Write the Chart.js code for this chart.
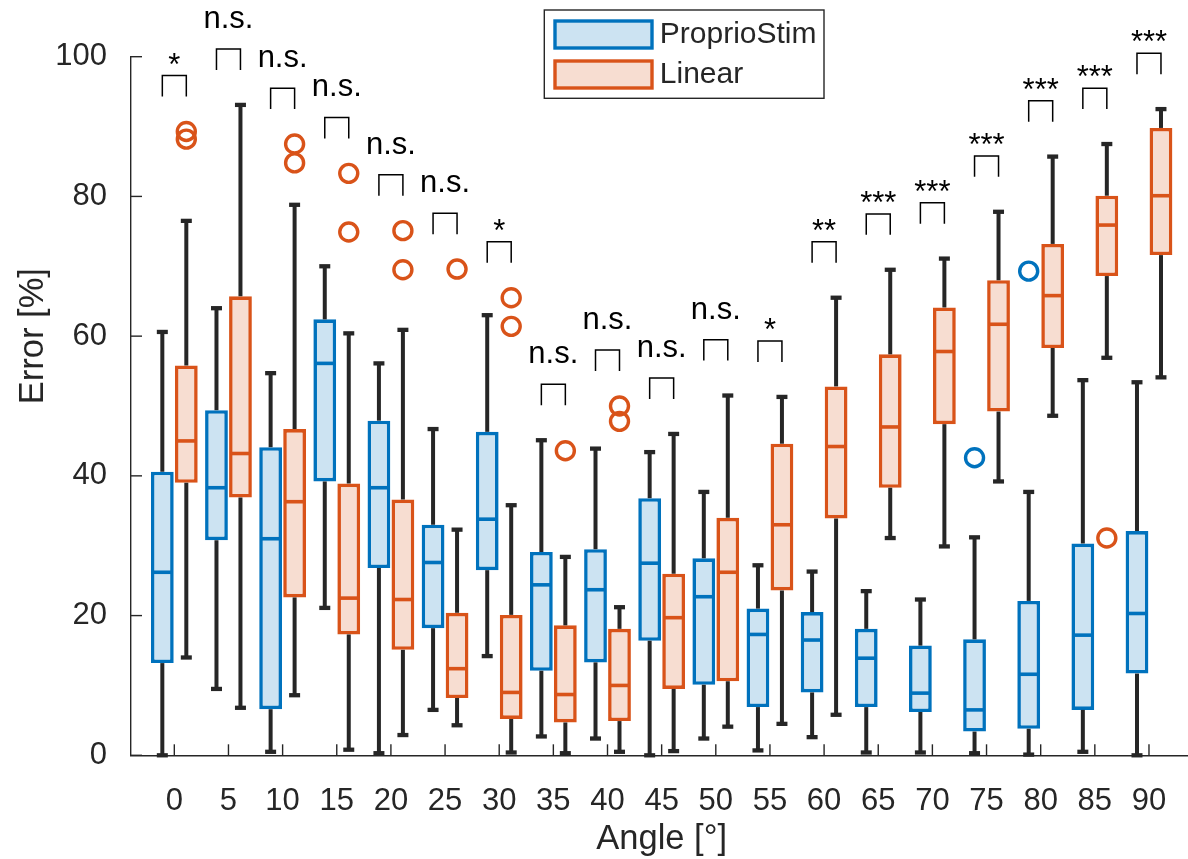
<!DOCTYPE html>
<html>
<head>
<meta charset="utf-8">
<script src="https://cdn.jsdelivr.net/npm/chart.js@4/dist/chart.umd.min.js"></script>
<style>
html, body { margin: 0; padding: 0; overflow: hidden; background: #fff; }
#wrap { width: 1196px; height: 859px; }
</style>
</head>
<body>
<div id="wrap"><canvas id="myChart" width="1196" height="859"></canvas></div>
<script>
// categories
var angles = ['0','5','10','15','20','25','30','35','40','45','50','55','60','65','70','75','80','85','90'];
var sigLabels = ['*','n.s.','n.s.','n.s.','n.s.','n.s.','*','n.s.','n.s.','n.s.','n.s.','*','**','***','***','***','***','***','***'];

// ProprioStim
var proprioMin = [0, 9.5, 0.5, 21.1, 0.3, 6.5, 14.2, 2.7, 2.4, 0, 2.4, 0.7, 2.6, 0.4, 0.4, 0.3, 0.1, 0.5, 0];
var proprioQ1  = [13.2, 30.8, 6.6, 39.2, 26.8, 18.2, 26.5, 12.1, 13.3, 16.4, 10.1, 6.9, 9.0, 6.9, 6.2, 3.4, 3.8, 6.5, 11.7];
var proprioMed = [26.2, 38.3, 31.0, 56.1, 38.3, 27.6, 33.8, 24.4, 23.7, 27.5, 22.7, 17.3, 16.5, 13.9, 8.9, 6.5, 11.6, 17.2, 20.3];
var proprioQ3  = [40.6, 49.4, 44.1, 62.4, 47.9, 33.0, 46.3, 29.1, 29.5, 36.8, 28.2, 21.0, 20.5, 18.1, 15.7, 16.6, 22.1, 30.3, 32.1];
var proprioMax = [60.6, 64.0, 54.7, 70.0, 56.1, 46.7, 63.0, 45.1, 43.9, 43.4, 37.7, 27.2, 26.3, 23.5, 22.3, 31.2, 37.7, 53.7, 53.4];
var proprioOut = [[], [], [], [], [], [], [], [], [], [], [], [], [], [], [], [42.6], [69.3], [], []];

// Linear
var linearMin = [14.0, 6.8, 8.6, 0.8, 2.9, 4.3, 0.4, 0.3, 0.5, 0.6, 4.1, 4.5, 5.8, 31.1, 29.9, 39.2, 48.6, 56.9, 54.1];
var linearQ1  = [39.0, 36.9, 22.6, 17.3, 15.1, 8.2, 5.2, 4.7, 4.9, 9.5, 10.6, 23.6, 33.9, 38.3, 47.4, 49.2, 58.3, 68.6, 71.6];
var linearMed = [45.0, 43.2, 36.3, 22.5, 22.3, 12.4, 9.0, 8.7, 10.0, 19.7, 26.2, 33.0, 44.2, 47.0, 57.8, 61.7, 65.8, 75.9, 80.1];
var linearQ3  = [55.8, 65.7, 46.7, 38.9, 36.6, 20.4, 20.1, 18.6, 18.1, 26.0, 34.0, 44.6, 52.8, 57.4, 64.1, 68.0, 73.2, 80.1, 89.8];
var linearMax = [76.5, 93.1, 78.8, 60.4, 60.9, 32.3, 35.8, 28.4, 21.2, 46.0, 51.5, 51.3, 65.5, 69.5, 71.1, 77.8, 85.7, 87.5, 92.5];
var linearOut = [[89.3, 88.2], [], [87.5, 84.8], [83.3, 74.9], [75.1, 69.5], [69.6], [65.5, 61.4], [43.6], [50.0, 47.8], [], [], [], [], [], [], [], [], [31.1], []];

var yTicks = [0, 20, 40, 60, 80, 100];

var INK = '#262626';
var FONT = '"Liberation Sans", Arial, Helvetica, sans-serif';

var series = [
    {label: 'ProprioStim', edge: '#0072BD', fill: '#CCE3F2',
     min: proprioMin, q1: proprioQ1, med: proprioMed, q3: proprioQ3, max: proprioMax, out: proprioOut},
    {label: 'Linear', edge: '#D95319', fill: '#F7DDD1',
     min: linearMin, q1: linearQ1, med: linearMed, q3: linearQ3, max: linearMax, out: linearOut}
];

function line(ctx, x1, y1, x2, y2){
    ctx.beginPath();
    ctx.moveTo(x1, y1);
    ctx.lineTo(x2, y2);
    ctx.stroke();
}

var boxExtras = {
    id: 'boxExtras',
    afterDraw: function(chart){
        var ctx = chart.ctx;
        var ys = chart.scales.y, xs = chart.scales.x;
        var area = chart.chartArea;
        var py = function(v){ return ys.getPixelForValue(v); };

        ctx.save();
        ctx.lineCap = 'butt';

        series.forEach(function(s, d){
            var bars = chart.getDatasetMeta(d).data;
            bars.forEach(function(bar, i){
                var x = bar.x, w = bar.width;
                // whiskers
                ctx.strokeStyle = INK;
                ctx.lineWidth = 4;
                line(ctx, x, py(s.q3[i]), x, py(s.max[i]));
                line(ctx, x, py(s.q1[i]), x, py(s.min[i]));
                ctx.lineWidth = 4.3;
                line(ctx, x - 5.5, py(s.max[i]), x + 5.5, py(s.max[i]));
                line(ctx, x - 5.5, py(s.min[i]), x + 5.5, py(s.min[i]));
                // median
                ctx.strokeStyle = s.edge;
                ctx.lineWidth = 3.6;
                line(ctx, x - w / 2 + 1.8, py(s.med[i]), x + w / 2 - 1.8, py(s.med[i]));
                // outliers
                ctx.lineWidth = 3.4;
                s.out[i].forEach(function(v){
                    ctx.beginPath();
                    ctx.arc(x, py(v), 9, 0, Math.PI * 2);
                    ctx.stroke();
                });
            });
        });

        // significance brackets
        var b0 = chart.getDatasetMeta(0).data, b1 = chart.getDatasetMeta(1).data;
        angles.forEach(function(a, i){
            var top = Math.max.apply(null, [proprioMax[i], linearMax[i]].concat(proprioOut[i], linearOut[i]));
            var yTop = py(top + 8), yLeg = py(top + 5);
            ctx.strokeStyle = '#000';
            ctx.lineWidth = 1.5;
            ctx.beginPath();
            ctx.moveTo(b0[i].x, yLeg);
            ctx.lineTo(b0[i].x, yTop);
            ctx.lineTo(b1[i].x, yTop);
            ctx.lineTo(b1[i].x, yLeg);
            ctx.stroke();
            ctx.fillStyle = '#000';
            ctx.font = '31px ' + FONT;
            ctx.textAlign = 'center';
            ctx.textBaseline = 'alphabetic';
            var isStar = sigLabels[i].charAt(0) === '*';
            ctx.fillText(sigLabels[i], xs.getPixelForValue(i), isStar ? yTop - 1 : yTop - 21);
        });

        // inward tick marks
        ctx.strokeStyle = INK;
        ctx.lineWidth = 1.4;
        yTicks.forEach(function(v){
            line(ctx, area.left, py(v), area.left + 11, py(v));
        });
        angles.forEach(function(a, i){
            var x = xs.getPixelForValue(i);
            line(ctx, x, area.bottom, x, area.bottom - 11);
        });

        // axis titles
        ctx.fillStyle = INK;
        ctx.font = '34.5px ' + FONT;
        ctx.textAlign = 'center';
        ctx.textBaseline = 'alphabetic';
        ctx.fillText('Angle [°]', (area.left + area.right) / 2, area.bottom + 94);
        ctx.save();
        ctx.translate(area.left - 88, py(60));
        ctx.rotate(-Math.PI / 2);
        ctx.fillText('Error [%]', 0, 0);
        ctx.restore();

        // legend
        var lx = area.left + 413.3, ly = area.top - 46.7;
        ctx.fillStyle = '#fff';
        ctx.fillRect(lx, ly, 279.7, 88.3);
        ctx.strokeStyle = INK;
        ctx.lineWidth = 1.4;
        ctx.strokeRect(lx, ly, 279.7, 88.3);
        series.forEach(function(s, k){
            var ry = ly + 11 + k * 40;
            ctx.fillStyle = s.fill;
            ctx.fillRect(lx + 10.7, ry, 97, 27);
            ctx.strokeStyle = s.edge;
            ctx.lineWidth = 3.4;
            ctx.strokeRect(lx + 10.7, ry, 97, 27);
            ctx.fillStyle = INK;
            ctx.font = '30px ' + FONT;
            ctx.textAlign = 'left';
            ctx.textBaseline = 'middle';
            ctx.fillText(s.label, lx + 115.5, ry + 14);
        });

        ctx.restore();
    }
};

var ctx = document.getElementById('myChart').getContext('2d');
var myChart = new Chart(ctx, {
    type: 'bar',
    data: {
        datasets: series.map(function(s){
            return {
                label: s.label,
                data: s.q1.map(function(q, i){ return {x: i, y: [q, s.q3[i]]}; }),
                backgroundColor: s.fill,
                borderColor: s.edge,
                borderWidth: 3.6,
                borderSkipped: false,
                categoryPercentage: 0.886,
                barPercentage: 0.95
            };
        })
    },
    options: {
        responsive: false,
        animation: false,
        devicePixelRatio: 1,
        layout: {padding: {top: 56.7, right: 3.7, bottom: 0, left: 0}},
        plugins: {legend: {display: false}, tooltip: {enabled: false}},
        scales: {
            x: {
                type: 'linear',
                min: -0.8,
                max: 18.8,
                offset: false,
                afterBuildTicks: function(s){
                    s.ticks = angles.map(function(a, i){ return {value: i}; });
                },
                afterFit: function(s){ s.height = 859 - 755.3; },
                ticks: {
                    callback: function(v){ return angles[v]; },
                    font: {family: FONT, size: 31},
                    color: INK,
                    padding: 20,
                    maxRotation: 0,
                    autoSkip: false
                },
                grid: {display: false},
                border: {display: true, color: INK, width: 1.4}
            },
            y: {
                min: 0,
                max: 100,
                afterBuildTicks: function(s){
                    s.ticks = yTicks.map(function(v){ return {value: v}; });
                },
                afterFit: function(s){ s.width = 131; },
                ticks: {
                    font: {family: FONT, size: 31},
                    color: INK,
                    padding: 16
                },
                grid: {display: false},
                border: {display: true, color: INK, width: 1.4}
            }
        }
    },
    plugins: [boxExtras]
});
</script>
</body>
</html>
